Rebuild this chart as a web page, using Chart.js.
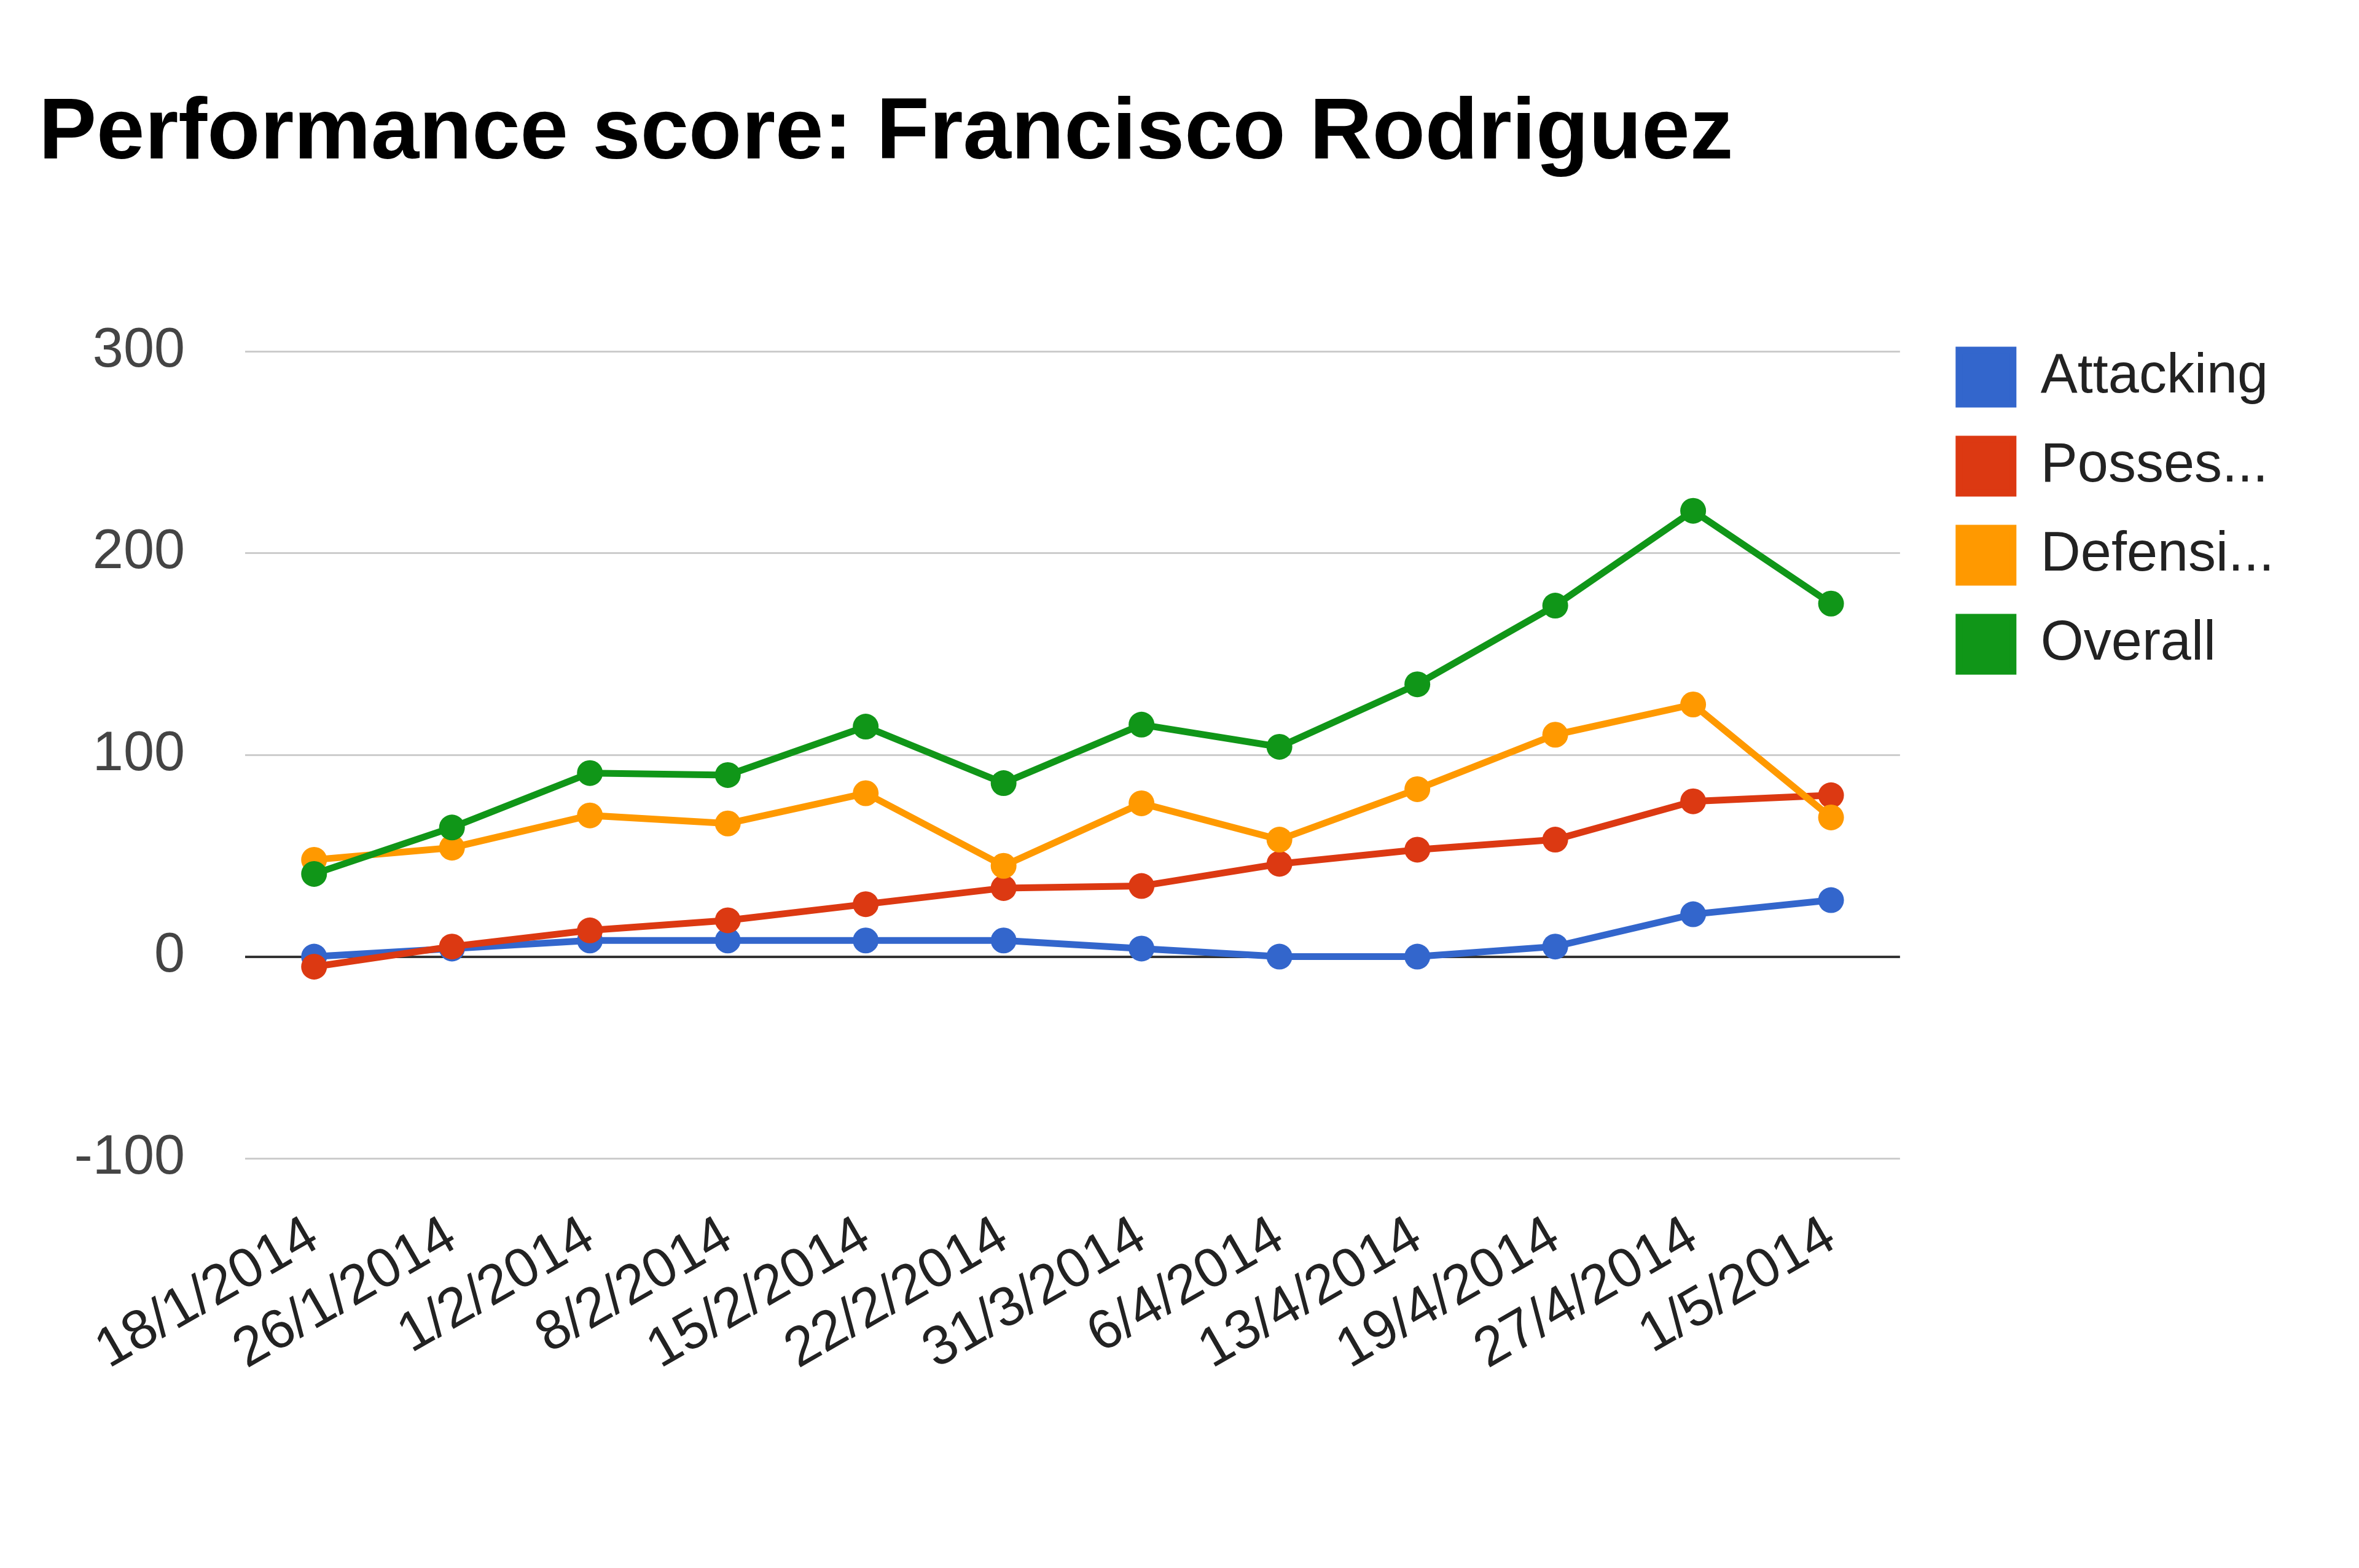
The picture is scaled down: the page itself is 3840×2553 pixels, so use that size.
<!DOCTYPE html>
<html lang="en">

<head>
  <meta charset="UTF-8" />
  <title>Performance score</title>
  <style>
    body {
      margin: 0;
      background: #fff;
    }
  </style>
</head>

<body>
  <canvas id="myChart" width="3840" height="2553"></canvas>

  <script src="https://cdn.jsdelivr.net/npm/chart.js"></script>
  <script>
    const dates = [
      "18/1/2014", "26/1/2014", "1/2/2014", "8/2/2014", "15/2/2014", "22/2/2014",
      "31/3/2014", "6/4/2014", "13/4/2014", "19/4/2014", "27/4/2014", "1/5/2014",
    ];
    const attacking = [0, 4, 8, 8, 8, 8, 4, 0, 0, 5, 21, 28];
    const possession = [-5, 5, 13, 18, 26, 34, 35, 46, 53, 58, 77, 80];
    const defensive = [48, 54, 70, 66, 81, 45, 76, 58, 83, 110, 125, 69];
    const overall = [41, 64, 91, 90, 114, 86, 115, 104, 135, 174, 221, 175];
    const yTicks = [-100, 0, 100, 200, 300];

    const font = "'Liberation Sans', Arial, sans-serif";

    function series(label, data, color, order) {
      return {
        label: label,
        data: data,
        borderColor: color,
        backgroundColor: color,
        borderWidth: 11,
        pointRadius: 21,
        pointBorderWidth: 0,
        pointHoverRadius: 21,
        tension: 0,
        order: order,
      };
    }

    // legend sits a bit further right than chart.js puts it
    const nudgeLegend = {
      id: "nudgeLegend",
      afterLayout(chart) {
        chart.legend.left += 41;
        chart.legend.right += 41;
      },
    };

    new Chart(document.getElementById("myChart"), {
      type: "line",
      data: {
        labels: dates,
        datasets: [
          series("Attacking", attacking, "#3366cc", 4),
          series("Posses...", possession, "#dc3912", 3),
          series("Defensi...", defensive, "#ff9900", 2),
          series("Overall", overall, "#109618", 1),
        ],
      },
      options: {
        responsive: false,
        devicePixelRatio: 1,
        animation: false,
        layout: { padding: { left: 63, right: 169, top: 0, bottom: 267 } },
        plugins: {
          title: {
            display: true,
            text: "Performance score: Francisco Rodriguez",
            align: "start",
            color: "#000",
            font: { family: font, size: 141, weight: "bold", lineHeight: 1.2 },
            padding: { top: 135, bottom: 268 },
          },
          legend: {
            position: "right",
            align: "start",
            labels: {
              color: "#222",
              font: { family: font, size: 90 },
              boxWidth: 88,
              boxHeight: 88,
              padding: 55,
              sort: (a, b) => a.datasetIndex - b.datasetIndex,
            },
            title: {
              display: true,
              text: "",
              font: { size: 10, lineHeight: 1 },
              padding: { top: 504, bottom: 0 },
            },
          },
          tooltip: { enabled: false },
        },
        scales: {
          x: {
            offset: true,
            grid: { display: false },
            border: { display: false },
            ticks: {
              color: "#222",
              font: { family: font, size: 90 },
              autoSkip: false,
              minRotation: 30,
              maxRotation: 30,
              padding: 66,
            },
            afterFit(scale) {
              scale.height = 400;
            },
          },
          y: {
            min: -100,
            max: 300,
            border: { display: false },
            grid: {
              drawTicks: false,
              color: (ctx) => (ctx.tick && ctx.tick.value === 0 ? "#333" : "#cccccc"),
              lineWidth: (ctx) => (ctx.tick && ctx.tick.value === 0 ? 4 : 3),
            },
            afterBuildTicks(scale) {
              scale.ticks = yTicks.map((v) => ({ value: v }));
            },
            ticks: {
              color: "#444",
              font: { family: font, size: 90 },
              padding: 98,
            },
            afterFit(scale) {
              scale.width = 336;
            },
          },
        },
      },
      plugins: [nudgeLegend],
    });
  </script>
</body>

</html>
